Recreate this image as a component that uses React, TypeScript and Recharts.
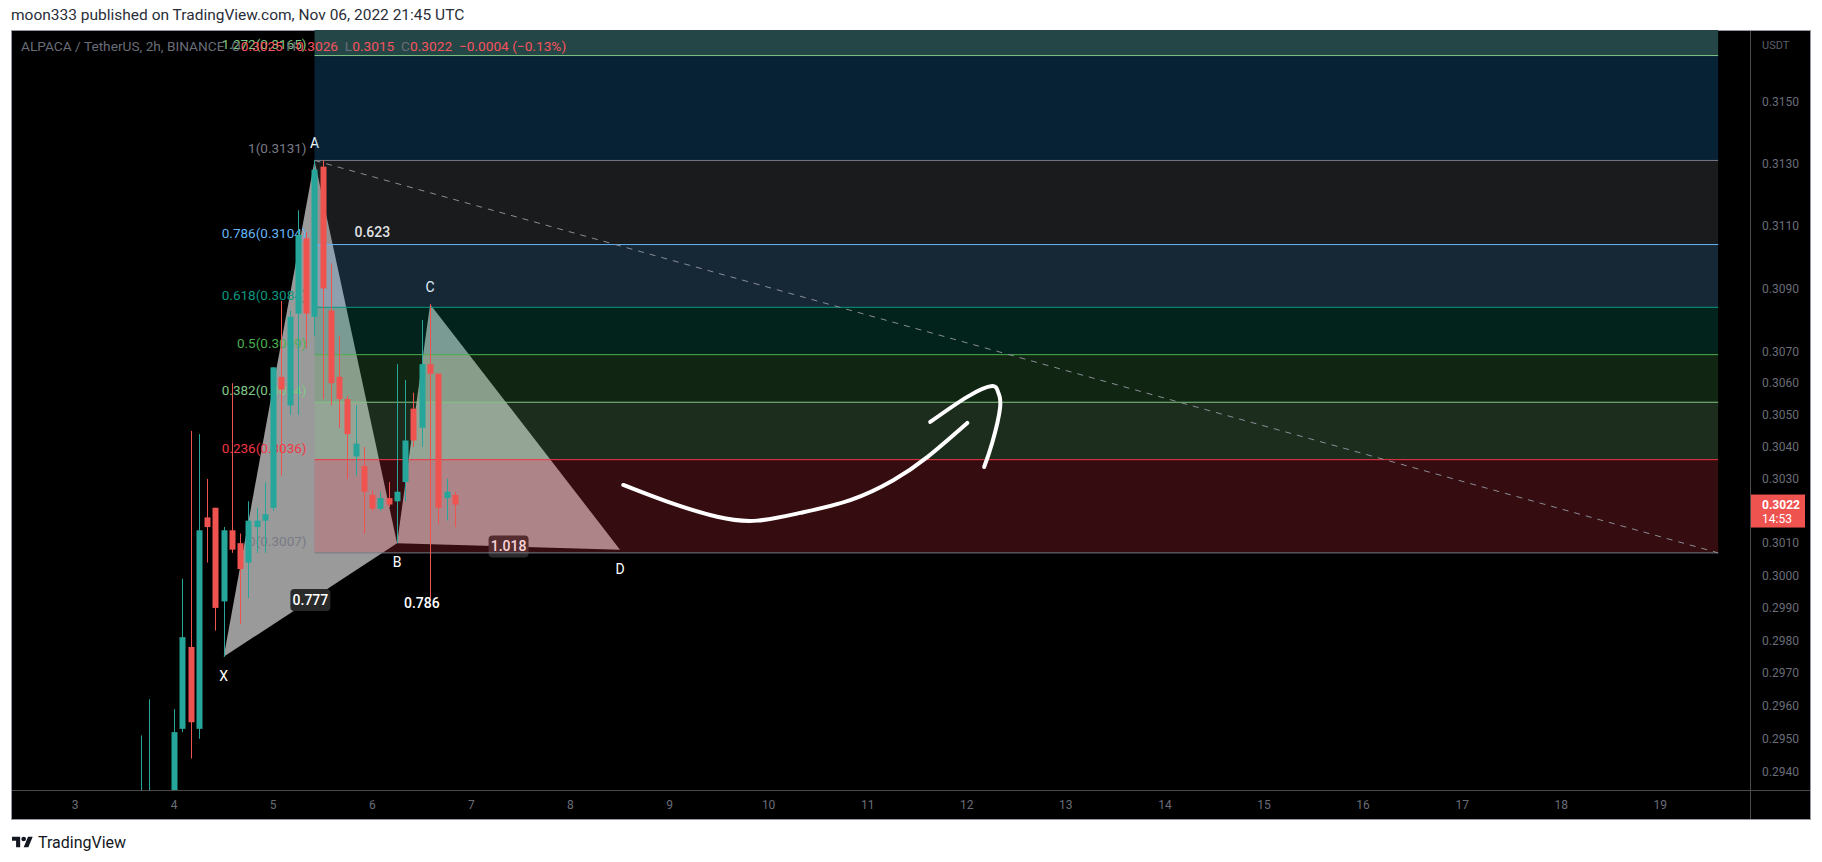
import React from "react"
import {
  ComposedChart,
  XAxis,
  YAxis,
  Bar,
  Scatter,
  ReferenceArea,
  ReferenceLine,
  ReferenceDot,
} from "recharts"

// ALPACA / TetherUS, 2h candles, Binance — day of Nov 2022 + hour
const candleTimes = [
  "03 16:00", "03 18:00", "03 20:00", "03 22:00",
  "04 00:00", "04 02:00", "04 04:00", "04 06:00", "04 08:00", "04 10:00",
  "04 12:00", "04 14:00", "04 16:00", "04 18:00", "04 20:00", "04 22:00",
  "05 00:00", "05 02:00", "05 04:00", "05 06:00", "05 08:00", "05 10:00",
  "05 12:00", "05 14:00", "05 16:00", "05 18:00", "05 20:00", "05 22:00",
  "06 00:00", "06 02:00", "06 04:00", "06 06:00", "06 08:00", "06 10:00",
  "06 12:00", "06 14:00", "06 16:00", "06 18:00", "06 20:00",
]
const candleOpen = [
  0.2915, 0.2928, 0.2932, 0.2925,
  0.293, 0.2953, 0.2978, 0.2953, 0.3018, 0.3021,
  0.2992, 0.3014, 0.301, 0.3004, 0.3015, 0.3017,
  0.3021, 0.3062, 0.3053, 0.3082, 0.3106, 0.3081,
  0.3129, 0.3083, 0.3062, 0.3055, 0.3037, 0.3034,
  0.3025, 0.30207, 0.3024, 0.3023, 0.3029, 0.3052,
  0.3046, 0.3066, 0.3063, 0.3024, 0.3025,
]
const candleHigh = [
  0.2951, 0.2962, 0.2933, 0.2933,
  0.2959, 0.2999, 0.3045, 0.3044, 0.303, 0.3021,
  0.3015, 0.306, 0.3013, 0.3023, 0.3021, 0.3029,
  0.3065, 0.3086, 0.3083, 0.3115, 0.3108, 0.3131,
  0.3131, 0.3098, 0.3075, 0.3056, 0.3053, 0.304,
  0.30265, 0.3026, 0.3029, 0.3066, 0.3061, 0.3057,
  0.308, 0.3085, 0.3063, 0.303, 0.3026,
]
const candleLow = [
  0.291, 0.292, 0.2918, 0.2921,
  0.2928, 0.2952, 0.2944, 0.295, 0.3004, 0.2983,
  0.2975, 0.3007, 0.2985, 0.2993, 0.3007, 0.3007,
  0.302, 0.3031, 0.305, 0.305, 0.3071, 0.3075,
  0.3055, 0.3053, 0.3046, 0.303, 0.3031, 0.3013,
  0.302, 0.302, 0.30212, 0.301, 0.3023, 0.304,
  0.304, 0.2993, 0.3016, 0.3017, 0.3015,
]
const candleClose = [
  0.2928, 0.2932, 0.2925, 0.293,
  0.2952, 0.2981, 0.2955, 0.3014, 0.3015, 0.299,
  0.3014, 0.3008, 0.3002, 0.3017, 0.3017, 0.3019,
  0.3065, 0.3058, 0.3081, 0.3107, 0.3082, 0.3128,
  0.309, 0.306, 0.3055, 0.3044, 0.3041, 0.3026,
  0.30207, 0.3024, 0.3022, 0.3026, 0.3042, 0.3042,
  0.3066, 0.3063, 0.3021, 0.3026, 0.3022,
]

const dayTicks = [3, 4, 5, 6, 7, 8, 9, 10, 11, 12, 13, 14, 15, 16, 17, 18, 19]
const priceTicks = [
  0.315, 0.313, 0.311, 0.309, 0.307, 0.306, 0.305, 0.304, 0.303,
  0.301, 0.3, 0.299, 0.298, 0.297, 0.296, 0.295, 0.294,
]

// fib retracement
const fibRatios = ["1.272", "1", "0.786", "0.618", "0.5", "0.382", "0.236", "0"]
const fibPrices = [0.3165, 0.3131, 0.3104, 0.3084, 0.3069, 0.3054, 0.3036, 0.3007]
const fibStart = "05 10:00"
const fibEnd = "19 14:00"

// XABCD pattern
const patternNames = ["X", "A", "B", "C", "D"]
const patternTimes = ["04 12:00", "05 10:00", "06 06:00", "06 14:00", "08 12:00"]
const patternPrices = [0.2975, 0.3131, 0.301, 0.3085, 0.3008]
const ratioLegs = [["X", "B"], ["A", "C"], ["B", "D"], ["X", "D"]]
const ratioTexts = ["0.777", "0.623", "1.018", "0.786"]

// hand drawn arrow (day, price)
const arrowShaftDay = [8.533, 8.977, 9.481, 9.885, 10.319, 10.824, 11.258, 11.601, 12.005]
const arrowShaftPrice = [0.30281, 0.30229, 0.30182, 0.3017, 0.30194, 0.30234, 0.30296, 0.30368, 0.30475]
const arrowHeadDay = [11.631, 12.005, 12.256, 12.316, 12.337, 12.256, 12.175]
const arrowHeadPrice = [0.30478, 0.30557, 0.30591, 0.30572, 0.30525, 0.30412, 0.30337]

const lastPrice = 0.3022
const countdown = "14:53"

const W = 1822
const H = 862
const FONT = "Roboto, 'Liberation Sans', sans-serif"
const UP = "#26a69a"
const DOWN = "#ef5350"
const X_DOMAIN = [2.3633, 19.905]
const Y_DOMAIN = [0.293446, 0.317334]

const fibLineColors = ["#81c784", "#787b86", "#64b5f6", "#089981", "#4caf50", "#81c784", "#f23645", "#787b86"]
// zone above each level: [colour, opacity]
const fibZoneFill: [string, number][] = [
  ["#244646", 1],
  ["#2196f3", 0.22],
  ["#787b86", 0.22],
  ["#64b5f6", 0.22],
  ["#089981", 0.22],
  ["#4caf50", 0.22],
  ["#81c784", 0.22],
  ["#f23645", 0.22],
]

const toDay = (s: string) => {
  const [d, hm] = s.split(" ")
  const [h, m] = hm.split(":")
  return Number(d) + (Number(h) + Number(m) / 60) / 24
}

const candles = candleTimes.map((s, i) => ({
  t: toDay(s),
  o: candleOpen[i],
  h: candleHigh[i],
  l: candleLow[i],
  c: candleClose[i],
}))

const pattern = patternNames.map((name, i) => ({
  name,
  t: toDay(patternTimes[i]),
  p: patternPrices[i],
}))
const pt = (name: string) => pattern.find((d) => d.name === name)!

const shaft = arrowShaftDay.map((t, i) => ({ t, p: arrowShaftPrice[i] }))
const head = arrowHeadDay.map((t, i) => ({ t, p: arrowHeadPrice[i] }))

const Candle = (props: any) => {
  const { x, y, width, height, payload } = props
  if (x == null || y == null || !payload) return <g />
  const mid = Math.round(x + width / 2) + 0.5
  const lh = Math.log(payload.h)
  const ll = Math.log(payload.l)
  const at = (v: number) => (lh === ll ? y : y + ((lh - Math.log(v)) / (lh - ll)) * height)
  const color = payload.c >= payload.o ? UP : DOWN
  const top = at(Math.max(payload.o, payload.c))
  const bot = at(Math.min(payload.o, payload.c))
  return (
    <g>
      <line x1={mid} x2={mid} y1={y} y2={y + height} stroke={color} strokeWidth={1} />
      <rect x={mid - 3} y={top} width={6} height={Math.max(1, bot - top)} fill={color} />
    </g>
  )
}

const hidden = () => <g />

const triangle = (lp: any) => (
  <polygon
    points={lp.points.map((q: any) => `${q.x},${q.y}`).join(" ")}
    fill="#9a9a9a"
    stroke="none"
  />
)

const ratioLabel = (text: string, boxed: boolean) => (lp: any) => {
  const [a, b] = lp.points
  const mx = (a.x + b.x) / 2
  const my = (a.y + b.y) / 2
  return (
    <g>
      {boxed && <rect x={mx - 20} y={my - 11} width={40} height={22} rx={4} fill="#2a2a2a" />}
      <text
        x={mx}
        y={my}
        textAnchor="middle"
        dominantBaseline="central"
        fill="#ffffff"
        fontSize={14}
        fontWeight={500}
        fontFamily={FONT}
      >
        {text}
      </text>
    </g>
  )
}

const letter = (props: any) => {
  const { cx, cy, payload, index } = props
  const i = index ?? patternNames.indexOf(payload.name)
  const below = i % 2 === 0
  return (
    <text
      x={cx}
      y={below ? cy + 24 : cy - 12}
      textAnchor="middle"
      fill="#ffffff"
      fontSize={14}
      fontFamily={FONT}
    >
      {payload.name}
    </text>
  )
}

export default function App() {
  const x0 = toDay(fibStart)
  const x1 = toDay(fibEnd)
  const bounds = [Y_DOMAIN[1], ...fibPrices]
  return (
    <div
      style={{
        position: "absolute",
        left: 0,
        top: 0,
        width: W,
        height: H,
        background: "#ffffff",
        overflow: "hidden",
        fontFamily: FONT,
      }}
    >
      <div style={{ position: "absolute", left: 11, top: 5, fontSize: 15.5, lineHeight: "20px", color: "#2a2e39" }}>
        moon333 published on TradingView.com, Nov 06, 2022 21:45 UTC
      </div>
      <div
        style={{
          position: "absolute",
          left: 11,
          top: 30,
          width: 1800,
          height: 790,
          background: "#000000",
          border: "1px solid #9598a1",
          boxSizing: "border-box",
        }}
      />
      <div style={{ position: "absolute", left: 12, top: 790, width: 1798, height: 1, background: "#4a4a4a" }} />
      <div style={{ position: "absolute", left: 1750, top: 31, width: 1, height: 788, background: "#4a4a4a" }} />

      <div style={{ position: "absolute", left: 0, top: 0 }}>
        <ComposedChart
          width={W}
          height={H}
          data={candles}
          margin={{ top: 30, right: 12, bottom: 43, left: 12 }}
        >
          <XAxis
            type="number"
            dataKey="t"
            domain={X_DOMAIN}
            allowDataOverflow
            ticks={dayTicks}
            interval={0}
            axisLine={false}
            tickLine={false}
            tickSize={6}
            tickMargin={4}
            height={29}
            tick={{ fill: "#6a6d78", fontSize: 12, fontFamily: FONT }}
          />
          <YAxis
            orientation="right"
            scale="log"
            domain={Y_DOMAIN}
            allowDataOverflow
            ticks={priceTicks}
            interval={0}
            width={60}
            axisLine={false}
            tickLine={false}
            tickSize={6}
            tickMargin={6}
            tickFormatter={(v: number) => v.toFixed(4)}
            tick={{ fill: "#6a6d78", fontSize: 12, fontFamily: FONT }}
          />

          {/* XABCD pattern, under the fib zones */}
          <Scatter
            data={[pt("X"), pt("A"), pt("B")]}
            dataKey="p"
            line={triangle}
            lineType="joint"
            shape={hidden}
            isAnimationActive={false}
            zIndex={100}
          />
          <Scatter
            data={[pt("B"), pt("C"), pt("D")]}
            dataKey="p"
            line={triangle}
            lineType="joint"
            shape={hidden}
            isAnimationActive={false}
            zIndex={101}
          />
          {ratioLegs.map(([a, b], i) => (
            <Scatter
              key={`ratio-${i}`}
              data={[pt(a), pt(b)]}
              dataKey="p"
              line={ratioLabel(ratioTexts[i], i === 0 || i === 2)}
              lineType="joint"
              shape={hidden}
              isAnimationActive={false}
              zIndex={102}
            />
          ))}
          <Scatter
            data={pattern}
            dataKey="p"
            shape={letter}
            isAnimationActive={false}
            zIndex={103}
          />

          {/* fib zones */}
          {fibZoneFill.map(([fill, op], i) => (
            <ReferenceArea
              key={`zone-${i}`}
              x1={x0}
              x2={x1}
              y1={bounds[i + 1]}
              y2={bounds[i]}
              fill={fill}
              fillOpacity={op}
              stroke="none"
              ifOverflow="visible"
              zIndex={110}
            />
          ))}
          {fibPrices.map((p, i) => (
            <ReferenceLine
              key={`fib-${i}`}
              segment={[
                { x: x0, y: p },
                { x: x1, y: p },
              ]}
              stroke={fibLineColors[i]}
              strokeWidth={1}
              ifOverflow="visible"
              zIndex={120}
            />
          ))}
          {fibPrices.map((p, i) => (
            <ReferenceDot
              key={`fiblabel-${i}`}
              x={x0}
              y={p}
              r={0}
              ifOverflow="visible"
              zIndex={121}
              shape={(sp: any) => (
                <text
                  x={sp.cx - 8}
                  y={sp.cy - 12}
                  textAnchor="end"
                  dominantBaseline="central"
                  fill={fibLineColors[i]}
                  fontSize={13.5}
                  fontFamily={FONT}
                >
                  {`${fibRatios[i]}(${p.toFixed(4)})`}
                </text>
              )}
            />
          ))}
          <ReferenceLine
            segment={[
              { x: x0, y: fibPrices[1] },
              { x: x1, y: fibPrices[fibPrices.length - 1] },
            ]}
            stroke="#8a8d96"
            strokeDasharray="6 6"
            strokeWidth={1}
            ifOverflow="visible"
            zIndex={122}
          />

          <Bar
            dataKey={(d: any) => [d.l, d.h]}
            barSize={6}
            shape={Candle}
            isAnimationActive={false}
            zIndex={200}
          />

          <Scatter
            data={shaft}
            dataKey="p"
            line={{ stroke: "#ffffff", strokeWidth: 4, strokeLinecap: "round", strokeLinejoin: "round" }}
            lineType="joint"
            lineJointType="natural"
            shape={hidden}
            isAnimationActive={false}
            zIndex={300}
          />
          <Scatter
            data={head}
            dataKey="p"
            line={{ stroke: "#ffffff", strokeWidth: 4, strokeLinecap: "round", strokeLinejoin: "round" }}
            lineType="joint"
            lineJointType="natural"
            shape={hidden}
            isAnimationActive={false}
            zIndex={301}
          />

          <ReferenceDot
            x={X_DOMAIN[1]}
            y={lastPrice}
            r={0}
            ifOverflow="visible"
            zIndex={600}
            shape={(sp: any) => (
              <g>
                <rect x={sp.cx + 1} y={sp.cy - 10} width={54} height={33} fill="#ef5350" />
                <text x={sp.cx + 12} y={sp.cy} dominantBaseline="central" fill="#ffffff" fontSize={12} fontWeight={700} fontFamily={FONT}>
                  {lastPrice.toFixed(4)}
                </text>
                <text x={sp.cx + 12} y={sp.cy + 14} dominantBaseline="central" fill="#ffffff" fontSize={12} fontFamily={FONT}>
                  {countdown}
                </text>
              </g>
            )}
          />
        </ComposedChart>
      </div>

      <div style={{ position: "absolute", left: 21, top: 39, fontSize: 13.7, lineHeight: "15px", color: "#6a6d78", whiteSpace: "pre" }}>
        {"ALPACA / TetherUS, 2h, BINANCE  "}
        <span>O</span>
        <span style={{ color: "#f7525f" }}>0.3025</span>{" "}
        <span>H</span>
        <span style={{ color: "#f7525f" }}>0.3026</span>{"  "}
        <span>L</span>
        <span style={{ color: "#f7525f" }}>0.3015</span>{"  "}
        <span>C</span>
        <span style={{ color: "#f7525f" }}>0.3022</span>{"  "}
        <span style={{ color: "#f7525f" }}>−0.0004 (−0.13%)</span>
      </div>
      <div style={{ position: "absolute", left: 1762, top: 39, fontSize: 11, lineHeight: "14px", color: "#5d606b" }}>USDT</div>

      <div style={{ position: "absolute", left: 12, top: 833, display: "flex", alignItems: "center", gap: 5 }}>
        <svg width={21} height={17} viewBox="0 0 36 28">
          <path d="M14 22H7V11H0V4h14v18zM28 22h-8l7.5-18h8L28 22z" fill="#131722" />
          <circle cx={20} cy={8} r={4} fill="#131722" />
        </svg>
        <span style={{ fontSize: 16, color: "#131722" }}>TradingView</span>
      </div>
    </div>
  )
}
